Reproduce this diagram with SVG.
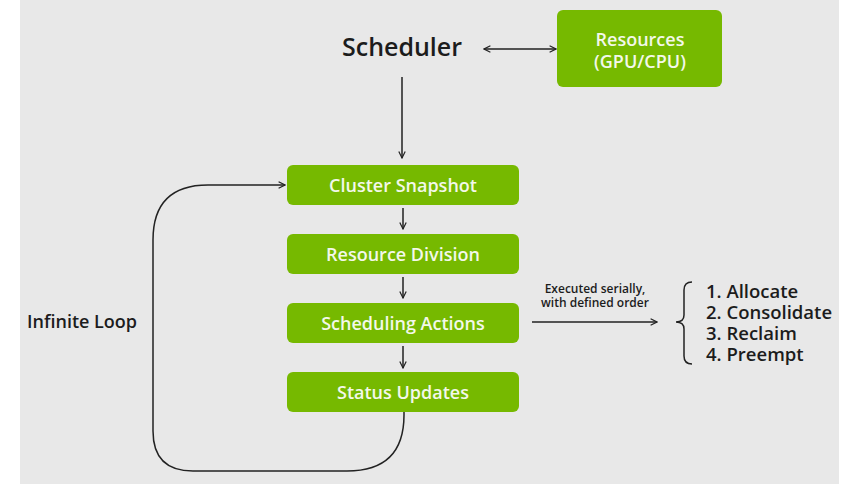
<svg xmlns="http://www.w3.org/2000/svg" width="860" height="484" viewBox="0 0 860 484">
<defs>
<style>
.box{fill:#76b900;}
.bt{font-family:"Open Sans","Liberation Sans",sans-serif;font-weight:600;font-size:18px;fill:#f3f8ea;text-anchor:middle;}
.dt{font-family:"Open Sans","Liberation Sans",sans-serif;font-weight:600;fill:#1c1c1c;}
.ln{fill:none;stroke:#222;stroke-width:1.5;}
</style>
<marker id="ah" viewBox="0 0 10 10" refX="9" refY="5" markerWidth="8" markerHeight="8" markerUnits="userSpaceOnUse" orient="auto-start-reverse">
<path d="M1,1 L9,5 L1,9" fill="none" stroke="#222" stroke-width="1.5"/>
</marker>
</defs>
<rect x="0" y="0" width="860" height="484" fill="#ffffff"/>
<rect x="20" y="0" width="819" height="484" fill="#e8e8e8"/>

<g id="scheduler">
<text class="dt" x="402" y="56" font-size="25" text-anchor="middle" font-weight="700">Scheduler</text>
</g>
<g id="resources">
<rect class="box" x="557" y="10" width="165" height="77" rx="6"/>
<text class="bt" x="640" y="46">Resources</text>
<text class="bt" x="640" y="68">(GPU/CPU)</text>
</g>
<g id="cluster-snapshot">
<rect class="box" x="287" y="165" width="232" height="40" rx="6"/>
<text class="bt" x="403" y="192">Cluster Snapshot</text>
</g>
<g id="resource-division">
<rect class="box" x="287" y="234" width="232" height="40" rx="6"/>
<text class="bt" x="403" y="261">Resource Division</text>
</g>
<g id="scheduling-actions">
<rect class="box" x="287" y="303" width="232" height="40" rx="6"/>
<text class="bt" x="403" y="330">Scheduling Actions</text>
</g>
<g id="status-updates">
<rect class="box" x="287" y="372" width="232" height="40" rx="6"/>
<text class="bt" x="403" y="399">Status Updates</text>
</g>
<g id="infinite-loop-label">
<text class="dt" x="27" y="328" font-size="18">Infinite Loop</text>
</g>
<g id="actions-list">
<path class="ln" d="M692,282 Q684,282 684,290 L684,315 Q684,322 676,322 Q684,322 684,329 L684,356 Q684,364 692,364"/>
<text class="dt" x="706" y="298" font-size="18.5">1. Allocate</text>
<text class="dt" x="706" y="319" font-size="18.5">2. Consolidate</text>
<text class="dt" x="706" y="340" font-size="18.5">3. Reclaim</text>
<text class="dt" x="706" y="361" font-size="18.5">4. Preempt</text>
</g>

<g id="connectors">
<line class="ln" x1="484" y1="49" x2="556" y2="49" marker-start="url(#ah)" marker-end="url(#ah)"/>
<line class="ln" x1="402" y1="77" x2="402" y2="158" marker-end="url(#ah)"/>
<line class="ln" x1="403" y1="208" x2="403" y2="229" marker-end="url(#ah)"/>
<line class="ln" x1="403" y1="277" x2="403" y2="298" marker-end="url(#ah)"/>
<line class="ln" x1="403" y1="346" x2="403" y2="368" marker-end="url(#ah)"/>
<line class="ln" x1="532" y1="322" x2="657" y2="322" marker-end="url(#ah)"/>
<path class="ln" d="M404,412 L404,415 Q404,471 347,471 L193,471 Q153,471 153,431 L153,240 Q153,185 208,185 L285,185" marker-end="url(#ah)"/>
<text class="dt" x="595" y="293" font-size="12" text-anchor="middle">Executed serially,</text>
<text class="dt" x="595" y="307" font-size="12" text-anchor="middle">with defined order</text>
</g>
</svg>
